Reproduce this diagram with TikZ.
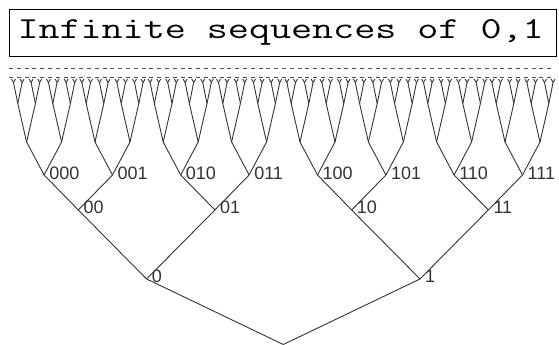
\documentclass[tikz,border=0pt]{standalone}
\usepackage{fontspec}
\newfontfamily\lblfont{Liberation Sans}
\usetikzlibrary{calc}
\begin{document}
\begin{tikzpicture}[x=1pt,y=1pt,
  edge/.style={draw=black!80, line width=0.9pt},
  lbl/.style={font=\lblfont\fontsize{18}{18}\selectfont, text=black!80, inner sep=0pt, anchor=west, xshift=5pt},
  dashline/.style={draw=black!70, line width=1pt, dash pattern=on 4pt off 3.8pt},
  titlebox/.style={draw=black, line width=1pt, text width=531pt, align=left, inner xsep=8pt, inner ysep=0pt, minimum height=46.7pt}]
\useasboundingbox (0,0) rectangle (559,345);
% title
\node[titlebox] (title) at (283,312.3) {\scalebox{1.34}[1]{\fontsize{30.5}{30.5}\selectfont\ttfamily\spaceskip=0pt\xspaceskip=0pt Infinite sequences of 0,1}};
% dashed lines
\coordinate (da1) at (9,276);
\coordinate (da2) at (552,276);
\coordinate (db1) at (9,267.5);
\coordinate (db2) at (552,267.5);
\draw[dashline] (da1) -- (da2);
\draw[dashline] (db1) -- (db2);
% tree
\coordinate (v-0-0) at (283.3,0.5);
\foreach \L/\P/\d/\dy in {1/0/136.7/65.5, 2/1/68.3/69, 3/2/34.2/35, 4/3/17.5/33, 5/4/8.8/38.5, 6/5/4.3/21, 7/6/2/3.5}{
  \pgfmathtruncatemacro\N{2^\L-1}
  \foreach \i in {0,...,\N}{
    \pgfmathtruncatemacro\p{floor(\i/2)}
    \pgfmathtruncatemacro\s{2*mod(\i,2)-1}
    \coordinate (v-\L-\i) at ($(v-\P-\p)+(\s*\d,\dy)$);
    \draw[edge] (v-\P-\p) -- (v-\L-\i);
  }
}
% labels
\foreach \i/\t in {0/0,1/1}
  \node[lbl, yshift=2.5pt] (l-\t) at (v-1-\i) {\t};
\foreach \i/\t in {0/00,1/01,2/10,3/11}
  \node[lbl, yshift=2.3pt] (l-\t) at (v-2-\i) {\t};
\foreach \i/\t in {0/000,1/001,2/010,3/011,4/100,5/101,6/110,7/111}
  \node[lbl, yshift=1.2pt] (l-\t) at (v-3-\i) {\t};
\end{tikzpicture}
\end{document}
